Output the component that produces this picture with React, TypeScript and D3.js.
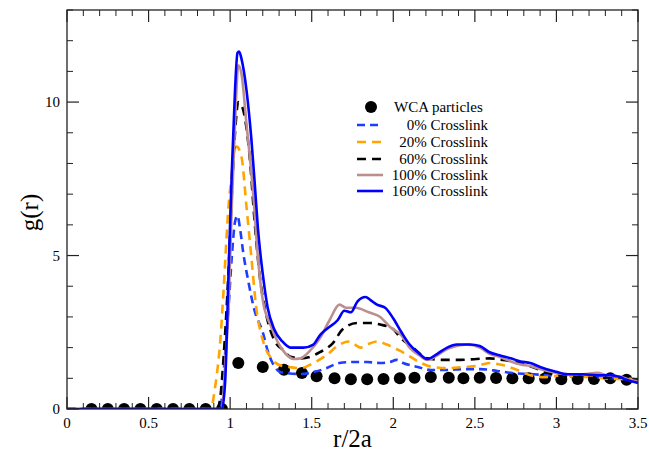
import React from "react";
import * as d3 from "d3";

const wcaR = [0.15,0.25,0.35,0.45,0.55,0.65,0.75,0.85,0.95,1.05,1.2,1.33,1.44,1.53,1.64,1.74,1.84,1.94,2.04,2.13,2.23,2.34,2.43,2.53,2.63,2.73,2.83,2.93,3.03,3.13,3.23,3.33,3.43];
const wcaG = [0,0,0,0,0,0,0,0,0,1.5,1.37,1.28,1.17,1.07,1.0,0.97,0.97,0.98,1.0,1.02,1.04,1.02,1.0,1.02,1.01,1.0,1.0,0.99,0.97,0.98,0.98,1.0,0.95];

const cl0: [number, number][] = [[0,0],[0.94,0],[0.96,1.2],[0.99,3.3],[1.01,4.95],[1.03,6.1],[1.045,6.3],[1.06,5.9],[1.08,5.1],[1.11,4.2],[1.15,3.2],[1.2,2.5],[1.23,1.9],[1.26,1.5],[1.31,1.2],[1.35,1.17],[1.43,1.14],[1.51,1.2],[1.59,1.33],[1.67,1.5],[1.75,1.53],[1.84,1.53],[1.92,1.5],[1.98,1.53],[2.02,1.6],[2.06,1.5],[2.15,1.37],[2.23,1.27],[2.33,1.27],[2.43,1.3],[2.53,1.3],[2.64,1.24],[2.73,1.17],[2.84,1.14],[2.94,1.1],[3.07,1.07],[3.2,1.05],[3.3,1.02],[3.4,0.98],[3.5,0.95]];
const cl20: [number, number][] = [[0,0],[0.88,0],[0.91,0.8],[0.94,2.25],[0.96,3.9],[0.99,6.6],[1.01,7.7],[1.02,8.4],[1.04,8.55],[1.07,8.2],[1.1,6.6],[1.13,4.95],[1.16,3.3],[1.2,2.25],[1.26,1.6],[1.32,1.4],[1.36,1.37],[1.43,1.33],[1.51,1.5],[1.59,1.75],[1.67,2.1],[1.73,2.2],[1.8,2.0],[1.84,2.1],[1.9,2.2],[1.96,2.1],[2.04,1.9],[2.09,1.75],[2.16,1.53],[2.24,1.37],[2.33,1.33],[2.43,1.37],[2.51,1.4],[2.59,1.5],[2.67,1.43],[2.76,1.27],[2.84,1.1],[2.92,1.04],[3.05,1.1],[3.15,1.05],[3.25,1.02],[3.35,0.98],[3.45,0.98],[3.5,0.95]];
const cl60: [number, number][] = [[0,0],[0.92,0],[0.94,0.4],[0.96,1.7],[0.99,4.5],[1.01,7.0],[1.03,9.0],[1.05,10.0],[1.07,9.9],[1.09,9.5],[1.12,8.2],[1.15,6.1],[1.18,4.4],[1.22,3.1],[1.27,2.25],[1.33,1.9],[1.37,1.7],[1.43,1.65],[1.49,1.7],[1.55,1.85],[1.63,2.15],[1.69,2.6],[1.78,2.8],[1.86,2.8],[1.92,2.75],[2.0,2.6],[2.04,2.35],[2.12,2.0],[2.21,1.65],[2.31,1.6],[2.41,1.6],[2.51,1.63],[2.59,1.65],[2.67,1.6],[2.78,1.5],[2.9,1.27],[3.0,1.1],[3.15,1.04],[3.25,1.0],[3.35,1.04],[3.43,1.0],[3.5,0.95]];
const cl100: [number, number][] = [[0,0],[0.95,0],[0.97,1.5],[0.99,3.3],[1.01,6.6],[1.03,9.3],[1.05,11.2],[1.07,10.9],[1.1,9.3],[1.14,7.1],[1.17,4.95],[1.2,3.55],[1.25,2.7],[1.29,2.2],[1.34,1.8],[1.39,1.63],[1.43,1.65],[1.49,1.9],[1.55,2.3],[1.61,2.9],[1.67,3.4],[1.71,3.3],[1.77,3.3],[1.85,3.15],[1.92,3.0],[1.98,2.67],[2.05,2.4],[2.1,2.0],[2.16,1.75],[2.21,1.6],[2.27,1.75],[2.33,1.95],[2.39,2.05],[2.45,2.1],[2.53,2.0],[2.59,1.8],[2.65,1.7],[2.72,1.55],[2.78,1.45],[2.84,1.4],[2.9,1.3],[2.98,1.2],[3.07,1.13],[3.16,1.13],[3.25,1.18],[3.31,1.1],[3.39,1.05],[3.45,0.95],[3.5,0.9]];
const cl160: [number, number][] = [[0,0],[0.95,0],[0.97,0.95],[0.99,4.4],[1.01,7.7],[1.03,10.4],[1.045,11.6],[1.055,11.65],[1.07,11.4],[1.1,10.4],[1.13,8.8],[1.15,7.4],[1.17,5.9],[1.2,4.4],[1.23,3.3],[1.27,2.6],[1.32,2.2],[1.37,2.0],[1.45,2.0],[1.51,2.1],[1.55,2.4],[1.59,2.6],[1.66,2.9],[1.7,3.2],[1.74,3.15],[1.78,3.5],[1.83,3.65],[1.86,3.55],[1.9,3.4],[1.95,3.3],[2.0,2.95],[2.05,2.5],[2.1,2.1],[2.16,1.8],[2.21,1.63],[2.27,1.8],[2.33,2.0],[2.39,2.1],[2.47,2.1],[2.53,2.05],[2.59,1.85],[2.65,1.75],[2.72,1.65],[2.78,1.55],[2.84,1.5],[2.9,1.37],[2.98,1.24],[3.07,1.13],[3.16,1.13],[3.25,1.1],[3.33,1.1],[3.39,1.04],[3.43,0.95],[3.5,0.85]];

const seriesNames = ["0% Crosslink", "20% Crosslink", "60% Crosslink", "100% Crosslink", "160% Crosslink"];
const seriesData = [cl0, cl20, cl60, cl100, cl160];
const seriesColors = ["#1f3cff", "#ffa500", "#000000", "#bc8f8f", "#0000ff"];
const seriesDash = ["8,5", "9,6", "9,6", null, null];

const xTicks = [0, 0.5, 1, 1.5, 2, 2.5, 3, 3.5];
const xTickLabels = ["0", "0.5", "1", "1.5", "2", "2.5", "3", "3.5"];
const yTicks = [0, 5, 10];
const yTickLabels = ["0", "5", "10"];

export default function App() {
  const W = 649, H = 452;
  const L = 67, R = 638, T = 10, B = 409;
  const x = d3.scaleLinear().domain([0, 3.5]).range([L, R]);
  const y = d3.scaleLinear().domain([0, 13]).range([B, T]);
  const line = d3.line<[number, number]>().x(d => x(d[0])).y(d => y(d[1])).curve(d3.curveMonotoneX);
  const xMinor = d3.range(0, 35.01, 1).map(v => v / 10).filter(v => !xTicks.some(t => Math.abs(t - v) < 1e-6));
  const yMinor = d3.range(0, 14).filter(v => v % 5 !== 0);
  const axisColor = "#222";
  const font = "'Liberation Serif', 'Times New Roman', serif";
  const legY = [107, 125, 142, 159, 175, 191];

  return (
    <svg width={W} height={H} style={{ position: "absolute", left: 0, top: 0, background: "#fff" }} fontFamily={font}>
      <defs>
        <clipPath id="plotClip"><rect x={L} y={T} width={R - L} height={B - T} /></clipPath>
      </defs>
      <rect x={0} y={0} width={W} height={H} fill="#fff" />
      <g clipPath="url(#plotClip)">
        {wcaR.map((r, i) => (
          <circle key={i} cx={x(r)} cy={y(wcaG[i])} r={6} fill="#000" />
        ))}
        {seriesData.map((d, i) => (
          <path key={i} d={line(d) || ""} fill="none" stroke={seriesColors[i]} strokeWidth={2.6}
            strokeDasharray={seriesDash[i] || undefined} strokeLinejoin="round" />
        ))}
      </g>
      <rect x={L} y={T} width={R - L} height={B - T} fill="none" stroke={axisColor} strokeWidth={1.3} />
      {xTicks.map((t, i) => (
        <g key={"xt" + i}>
          <line x1={x(t)} x2={x(t)} y1={B} y2={B - 12} stroke={axisColor} strokeWidth={1.2} />
          <line x1={x(t)} x2={x(t)} y1={T} y2={T + 12} stroke={axisColor} strokeWidth={1.2} />
          <text x={x(t)} y={428} textAnchor="middle" fontSize={15}>{xTickLabels[i]}</text>
        </g>
      ))}
      {xMinor.map((t, i) => (
        <g key={"xm" + i}>
          <line x1={x(t)} x2={x(t)} y1={B} y2={B - 6} stroke={axisColor} strokeWidth={1} />
          <line x1={x(t)} x2={x(t)} y1={T} y2={T + 6} stroke={axisColor} strokeWidth={1} />
        </g>
      ))}
      {yTicks.map((t, i) => (
        <g key={"yt" + i}>
          <line x1={L} x2={L + 12} y1={y(t)} y2={y(t)} stroke={axisColor} strokeWidth={1.2} />
          <line x1={R} x2={R - 12} y1={y(t)} y2={y(t)} stroke={axisColor} strokeWidth={1.2} />
          <text x={60} y={y(t) + 5} textAnchor="end" fontSize={15}>{yTickLabels[i]}</text>
        </g>
      ))}
      {yMinor.map((t, i) => (
        <g key={"ym" + i}>
          <line x1={L} x2={L + 6} y1={y(t)} y2={y(t)} stroke={axisColor} strokeWidth={1} />
          <line x1={R} x2={R - 6} y1={y(t)} y2={y(t)} stroke={axisColor} strokeWidth={1} />
        </g>
      ))}
      <text x={(L + R) / 2} y={447} textAnchor="middle" fontSize={25}>r/2a</text>
      <text transform={`translate(38, ${(T + B) / 2 + 3}) rotate(-90)`} textAnchor="middle" fontSize={25}>g(r)</text>
      <circle cx={371} cy={legY[0]} r={6} fill="#000" />
      <text x={394} y={legY[0] + 5} fontSize={15}>WCA particles</text>
      {seriesNames.map((n, i) => (
        <g key={"lg" + i}>
          <line x1={357} x2={383} y1={legY[i + 1]} y2={legY[i + 1]} stroke={seriesColors[i]} strokeWidth={2.6}
            strokeDasharray={seriesDash[i] || undefined} />
          <text x={488} y={legY[i + 1] + 5} textAnchor="end" fontSize={15}>{n}</text>
        </g>
      ))}
    </svg>
  );
}
